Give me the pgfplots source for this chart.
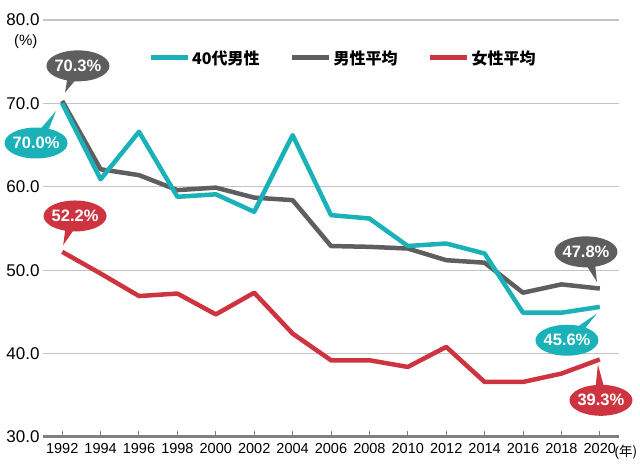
\documentclass[border=0pt]{standalone}
\usepackage{pgfplots}
\pgfplotsset{compat=1.18}
\usepackage{pgfplotstable}
\usepackage{fontspec}
\setmainfont{Liberation Sans}
\newfontfamily\jp{Noto Sans CJK JP}
\usetikzlibrary{shapes.callouts}

\definecolor{cteal}{HTML}{1AB2B8}
\definecolor{cgray}{HTML}{5E5E5E}
\definecolor{cred}{HTML}{CE3440}
\definecolor{cgrid}{HTML}{C4C4C4}
\definecolor{caxis}{HTML}{808080}

\pgfplotstableread{
year teal gray red
1992 70.0 70.3 52.2
1994 60.9 62.1 49.6
1996 66.6 61.4 46.9
1998 58.8 59.6 47.2
2000 59.1 59.9 44.7
2002 57.0 58.7 47.3
2004 66.2 58.4 42.4
2006 56.6 52.9 39.2
2008 56.2 52.8 39.2
2010 52.9 52.6 38.4
2012 53.2 51.2 40.8
2014 52.0 50.9 36.6
2016 44.9 47.3 36.6
2018 44.9 48.3 37.6
2020 45.6 47.8 39.3
}\datatable

\begin{document}
\begin{tikzpicture}
\path[use as bounding box] (-43pt,-33pt) rectangle (597pt,437pt);
\begin{axis}[
  scale only axis, width=576pt, height=417pt,
  xmin=1991, xmax=2021, ymin=30, ymax=80,
  xtick={1992,1994,...,2020}, ytick={30,40,...,80},
  ymajorgrids, grid style={cgrid, line width=1.2pt},
  axis x line*=bottom, axis y line*=left,
  y axis line style={draw=none},
  x axis line style={caxis, line width=3pt},
  ytick style={draw=none},
  xtick style={caxis, line width=1pt},
  xtick align=inside, major tick length=6pt,
  xticklabel style={font=\fontsize{14.5}{14.5}\selectfont, yshift=-3pt, /pgf/number format/.cd, 1000 sep={}, assume math mode=true},
  yticklabel style={font=\fontsize{17}{17}\selectfont, /pgf/number format/.cd, fixed, fixed zerofill, precision=1, assume math mode=true},
  legend style={at={(0.182,0.909)}, anchor=west, draw=none, fill=none, legend columns=3,
    font=\jp\bfseries\fontsize{16}{16}\selectfont, inner sep=0pt,
    /tikz/every even column/.append style={column sep=28pt}},
  legend cell align=left,
  legend image code/.code={\draw[#1, line width=5pt] (-4pt,0pt) -- (33pt,0pt);},
  clip=false,
]
\addlegendimage{cteal}
\addlegendentry{40代男性}
\addlegendimage{cgray}
\addlegendentry{男性平均}
\addlegendimage{cred}
\addlegendentry{女性平均}

\addplot[cgray, line width=4.5pt, line join=round, forget plot] table[x=year,y=gray]{\datatable};
\addplot[cteal, line width=4.5pt, line join=round, forget plot] table[x=year,y=teal]{\datatable};
\addplot[cred, line width=4.5pt, line join=round, forget plot] table[x=year,y=red]{\datatable};

\tikzset{bub/.style={ellipse callout, text=white, font=\bfseries\fontsize{16.5}{16.5}\selectfont,
  minimum width=63pt, minimum height=31pt, inner xsep=-7pt, inner ysep=0pt, callout pointer arc=14}}
\node[bub, fill=cgray, callout absolute pointer={(axis cs:1992.15,71.3)}] at (axis cs:1992.82,74.5) {70.3\%};
\node[bub, fill=cteal, callout absolute pointer={(axis cs:1991.68,69.1)}] at (axis cs:1990.64,65.25) {70.0\%};
\node[bub, fill=cred, callout absolute pointer={(axis cs:1992.05,53.0)}] at (axis cs:1992.67,56.5) {52.2\%};
\node[bub, fill=cgray, callout absolute pointer={(axis cs:2019.85,48.6)}] at (axis cs:2019.28,52.2) {47.8\%};
\node[bub, fill=cteal, callout absolute pointer={(axis cs:2019.85,44.8)}] at (axis cs:2018.29,41.6) {45.6\%};
\node[bub, fill=cred, callout absolute pointer={(axis cs:2019.9,38.7)}] at (axis cs:2020.06,34.4) {39.3\%};

\node[font=\fontsize{15}{15}\selectfont] at (rel axis cs:-0.03,0.947) {(\%)};
\node[anchor=west, font=\fontsize{13.5}{13.5}\selectfont, inner sep=0pt] at (rel axis cs:0.992,-0.036) {(\jp 年)};
\end{axis}
\end{tikzpicture}
\end{document}
